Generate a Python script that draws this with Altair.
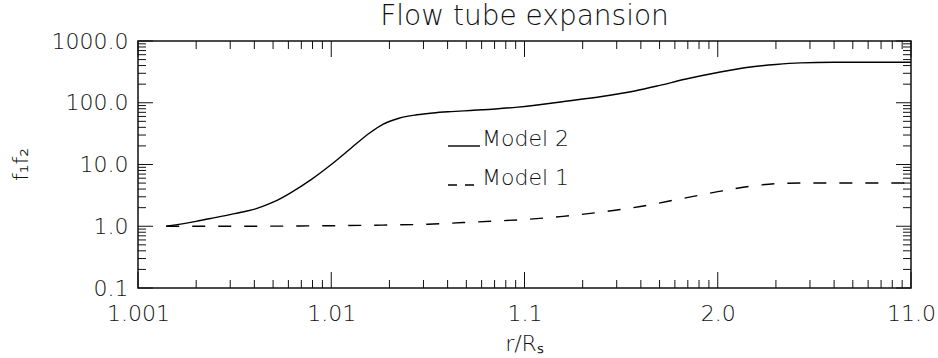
import altair as alt
import pandas as pd

# Height above the surface, h = r/R_s - 1, and the expansion factor f1*f2
model2_h = [0.0014, 0.0020, 0.0025, 0.00316, 0.00413, 0.0050, 0.0061, 0.0079,
            0.0100, 0.0126, 0.0158, 0.0185, 0.0224, 0.0277, 0.0336, 0.0417,
            0.0525, 0.0708, 0.0925, 0.168, 0.251, 0.372, 0.501, 0.676,
            1.0, 1.479, 1.995, 2.69, 3.98, 6.31, 10.0]
model2_f = [1.0, 1.20, 1.38, 1.60, 1.95, 2.45, 3.42, 5.75,
            10.0, 18.2, 32.4, 44.7, 56.2, 63.8, 68.4, 71.9,
            75.0, 79.4, 85.1, 107.0, 126.0, 155.0, 191.0, 240.0,
            309.0, 380.0, 417.0, 442.0, 452.0, 453.0, 453.0]

model1_h = [0.0014, 0.00316, 0.0069, 0.0166, 0.0316, 0.0562, 0.1, 0.158,
            0.251, 0.398, 0.631, 1.0, 1.259, 1.585, 1.995, 2.818, 3.98, 10.0]
model1_f = [1.0, 1.0, 1.01, 1.04, 1.08, 1.175, 1.288, 1.445,
            1.70, 2.09, 2.75, 3.63, 4.12, 4.57, 4.90, 5.01, 5.01, 5.01]

# Axis ticks and labels
x_major = [0.001, 0.01, 0.1, 1.0, 10.0]
x_labels = ["1.001", "1.01", "1.1", "2.0", "11.0"]
y_major = [0.1, 1.0, 10.0, 100.0, 1000.0]
y_labels = ["0.1", "1.0", "10.0", "100.0", "1000.0"]
minor_steps = [2, 3, 4, 5, 6, 7, 8, 9]
x_minor = [m * d for d in x_major[:-1] for m in minor_steps]
y_minor = [m * d for d in y_major[:-1] for m in minor_steps]

title_text = "Flow tube expansion"
key_labels = ["Model 2", "Model 1"]

W, H = 773, 247
FONT = "DejaVu Sans"
WEIGHT = 200
INK = "#111111"
LABEL_SIZE = 22


def label_expr(values, labels):
    expr = "'" + labels[-1] + "'"
    for v, lab in reversed(list(zip(values[:-1], labels[:-1]))):
        expr = f"datum.value < {v * 3} ? '{lab}' : " + expr
    return expr


x_scale = alt.Scale(type="log", domain=[0.001, 10.0], nice=False)
y_scale = alt.Scale(type="log", domain=[0.1, 1000.0], nice=False)

curves = pd.concat([
    pd.DataFrame({"h": model2_h, "f": model2_f, "model": key_labels[0]}),
    pd.DataFrame({"h": model1_h, "f": model1_f, "model": key_labels[1]}),
])

x_axis = alt.Axis(values=x_major, labelExpr=label_expr(x_major, x_labels),
                  ticks=False, domain=False, grid=False, labelPadding=15,
                  labelFont=FONT, labelFontSize=LABEL_SIZE, labelFontWeight=WEIGHT,
                  labelColor=INK, labelFlush=False,
                  title="r/Rₛ", titleFont=FONT, titleFontSize=LABEL_SIZE,
                  titleFontWeight=WEIGHT, titleColor=INK,
                  titleX=386, titleY=62, titleBaseline="alphabetic",
                  titleAlign="center")
y_axis = alt.Axis(values=y_major, labelExpr=label_expr(y_major, y_labels),
                  ticks=False, domain=False, grid=False, labelPadding=10,
                  labelFont=FONT, labelFontSize=LABEL_SIZE, labelFontWeight=WEIGHT,
                  labelColor=INK, labelFlush=False,
                  title="f₁f₂", titleFont=FONT, titleFontSize=LABEL_SIZE,
                  titleFontWeight=WEIGHT, titleColor=INK,
                  titleX=-111, titleY=123, titleAngle=270,
                  titleBaseline="alphabetic", titleAlign="center")

solid = alt.Chart(curves).transform_filter(
    alt.datum.model == key_labels[0]
).mark_line(color="black", strokeWidth=1.4, interpolate="monotone").encode(
    x=alt.X("h:Q", scale=x_scale, axis=x_axis),
    y=alt.Y("f:Q", scale=y_scale, axis=y_axis),
)

dashed = alt.Chart(curves).transform_filter(
    alt.datum.model == key_labels[1]
).mark_line(color="black", strokeWidth=1.4, strokeDash=[13, 13],
            interpolate="monotone").encode(
    x=alt.X("h:Q", scale=x_scale),
    y=alt.Y("f:Q", scale=y_scale),
)


def x_ticks(values, length):
    df = pd.DataFrame({"h": values})
    bottom = alt.Chart(df).mark_rule(color=INK, strokeWidth=1).encode(
        x=alt.X("h:Q", scale=x_scale), y=alt.value(H), y2=alt.value(H - length))
    top = alt.Chart(df).mark_rule(color=INK, strokeWidth=1).encode(
        x=alt.X("h:Q", scale=x_scale), y=alt.value(0), y2=alt.value(length))
    return [bottom, top]


def y_ticks(values, length):
    df = pd.DataFrame({"f": values})
    left = alt.Chart(df).mark_rule(color=INK, strokeWidth=1).encode(
        y=alt.Y("f:Q", scale=y_scale), x=alt.value(0), x2=alt.value(length))
    right = alt.Chart(df).mark_rule(color=INK, strokeWidth=1).encode(
        y=alt.Y("f:Q", scale=y_scale), x=alt.value(W), x2=alt.value(W - length))
    return [left, right]


tick_layers = (x_ticks(x_major, 16) + x_ticks(x_minor, 8)
               + y_ticks(y_major, 15) + y_ticks(y_minor, 8))

# Title above the frame
title = alt.Chart(pd.DataFrame({"t": [title_text]})).mark_text(
    align="center", baseline="alphabetic", font=FONT, fontSize=28,
    fontWeight=WEIGHT, color=INK).encode(
    x=alt.value(W / 2), y=alt.value(-16), text="t:N")

# In-plot key
key_rows = pd.DataFrame({"label": key_labels})
key_solid = alt.Chart(key_rows).transform_filter(
    alt.datum.label == key_labels[0]).mark_rule(color="black", strokeWidth=1.4).encode(
    x=alt.value(310), x2=alt.value(342), y=alt.value(105))
key_dashed = alt.Chart(key_rows).transform_filter(
    alt.datum.label == key_labels[1]).mark_rule(
    color="black", strokeWidth=1.4, strokeDash=[9, 8]).encode(
    x=alt.value(310), x2=alt.value(342), y=alt.value(144))
key_text2 = alt.Chart(key_rows).transform_filter(
    alt.datum.label == key_labels[0]).mark_text(
    align="left", baseline="alphabetic", font=FONT, fontSize=LABEL_SIZE,
    fontWeight=WEIGHT, color=INK).encode(
    x=alt.value(344), y=alt.value(105), text="label:N")
key_text1 = alt.Chart(key_rows).transform_filter(
    alt.datum.label == key_labels[1]).mark_text(
    align="left", baseline="alphabetic", font=FONT, fontSize=LABEL_SIZE,
    fontWeight=WEIGHT, color=INK).encode(
    x=alt.value(344), y=alt.value(144), text="label:N")

chart = alt.layer(
    solid, dashed, *tick_layers, title, key_solid, key_dashed, key_text2, key_text1
).properties(
    width=W, height=H,
    autosize=alt.AutoSizeParams(type="none"),
    padding={"left": 138, "top": 41, "right": 27, "bottom": 70},
    background="white",
).configure_view(stroke=INK, strokeWidth=1.5)

chart.save("out.html", embed_options={"renderer": "svg", "actions": False})
